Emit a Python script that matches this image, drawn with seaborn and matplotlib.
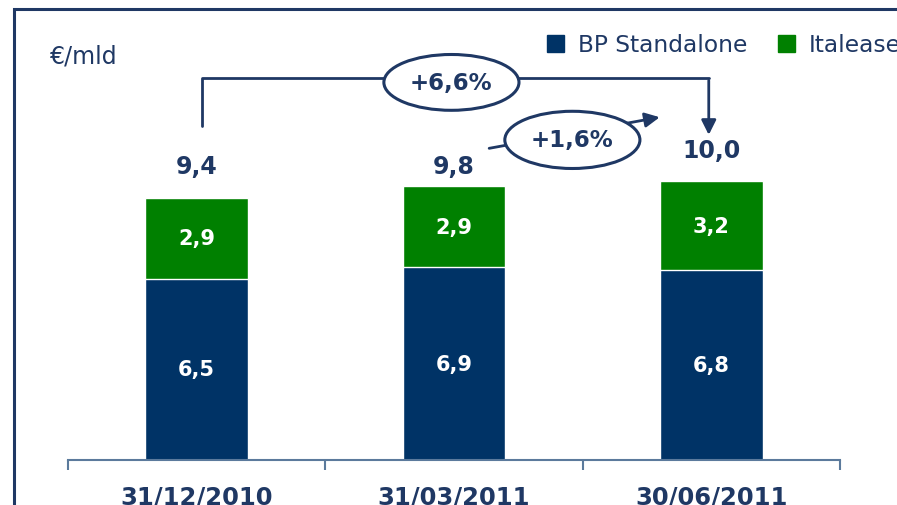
import matplotlib
matplotlib.use('Agg')
import matplotlib.pyplot as plt
import matplotlib.patches as mpatches
import seaborn as sns
import pandas as pd

# data
dates = ['31/12/2010', '31/03/2011', '30/06/2011']
bp_standalone = [6.5, 6.9, 6.8]
italease = [2.9, 2.9, 3.2]
totals = [9.4, 9.8, 10.0]
growth_labels = ['+6,6%', '+1,6%']

navy = '#003366'
green = '#008000'
txt = '#1F3864'

df = pd.DataFrame({'date': dates, 'bp': bp_standalone, 'ita': italease, 'tot': totals})

sns.set_style('white')
plt.rcParams['font.family'] = ['DejaVu Sans']

fig = plt.figure(figsize=(8.97, 5.06), dpi=100)
ax = fig.add_axes([68/897, 45/506, 772/897, 451/506])

# stacked bars: total in green, standalone in navy on top of it
sns.barplot(data=df, x='date', y='tot', color=green, width=0.4, ax=ax, saturation=1)
sns.barplot(data=df, x='date', y='bp', color=navy, width=0.4, ax=ax, saturation=1)

ax.set_xlim(-0.5, 2.5)
ax.set_ylim(0, 16.16)
ax.set_xlabel('')
ax.set_ylabel('')
ax.set_yticks([])
for s in ['top', 'right', 'left']:
    ax.spines[s].set_visible(False)
ax.spines['bottom'].set_color('#5B7A9C')
ax.spines['bottom'].set_linewidth(1.5)
ax.set_xticks(range(len(dates)))
ax.set_xticklabels(dates, fontsize=17.5, fontweight='bold', color=txt)
ax.tick_params(axis='x', which='major', length=0, pad=18)
ax.set_xticks([-0.5, 0.5, 1.5, 2.5], minor=True)
ax.tick_params(axis='x', which='minor', bottom=True, length=7, width=1.5, color='#5B7A9C', direction='out')

# value labels (total labels sit at slightly different heights on the slide)
total_offsets = [23, 14.5, 22]
for i in range(len(dates)):
    ax.text(i, bp_standalone[i] / 2, f'{bp_standalone[i]:.1f}'.replace('.', ','),
            ha='center', va='center', color='white', fontsize=15, fontweight='bold')
    ax.text(i, bp_standalone[i] + italease[i] / 2, f'{italease[i]:.1f}'.replace('.', ','),
            ha='center', va='center', color='white', fontsize=15, fontweight='bold')
    ax.annotate(f'{totals[i]:.1f}'.replace('.', ','), (i, totals[i]), xytext=(0, total_offsets[i]),
                textcoords='offset points', ha='center', va='center',
                color=txt, fontsize=17, fontweight='bold')

# +6,6% bracket arrow
ax.plot([0.02, 0.02, 1.99], [11.97, 13.69, 13.69], color=txt, lw=2, clip_on=False)
ax.annotate('', xy=(1.99, 11.55), xytext=(1.99, 13.7),
            arrowprops=dict(arrowstyle='-|>', color=txt, lw=2, mutation_scale=22), annotation_clip=False)
ax.add_patch(mpatches.Ellipse((0.99, 13.53), 0.525, 2.0, facecolor='white', edgecolor=txt, lw=2.2, zorder=5, clip_on=False))
ax.text(0.99, 13.53, growth_labels[0], ha='center', va='center', color=txt, fontsize=16.5, fontweight='bold', zorder=6)

# +1,6% arrow
ax.annotate('', xy=(1.81, 12.3), xytext=(1.126, 11.15),
            arrowprops=dict(arrowstyle='-|>', color=txt, lw=2, mutation_scale=22), annotation_clip=False)
ax.add_patch(mpatches.Ellipse((1.46, 11.47), 0.525, 2.05, facecolor='white', edgecolor=txt, lw=2.2, zorder=5, clip_on=False))
ax.text(1.46, 11.47, growth_labels[1], ha='center', va='center', color=txt, fontsize=16.5, fontweight='bold', zorder=6)

# unit label
fig.text(50/897, 1 - 56/506, '€/mld', ha='left', va='center', color=txt, fontsize=17)

# legend
handles = [mpatches.Patch(color=navy, label='BP Standalone'),
           mpatches.Patch(color=green, label='Italease')]
fig.legend(handles=handles, loc='center left', bbox_to_anchor=(547/897, 1 - 46/506), ncol=2,
           frameon=False, fontsize=16.8, labelcolor=txt, handlelength=0.74, handleheight=0.74,
           handletextpad=0.6, columnspacing=1.3, borderpad=0, borderaxespad=0)

# slide frame
fig.add_artist(mpatches.Rectangle((14/897, -0.1), 1.0, 1 - 10/506 + 0.1, transform=fig.transFigure,
                                  fill=False, edgecolor=txt, lw=2.2))

fig.savefig('out.png', dpi=100)
